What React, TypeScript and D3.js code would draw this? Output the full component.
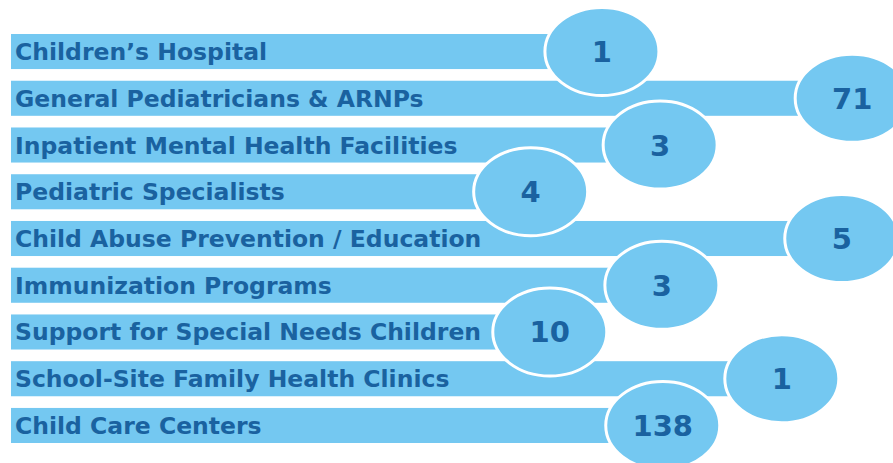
import { useEffect, useRef } from 'react';
import * as d3 from 'd3';

// service categories, top to bottom
const categories = [
  'Children\u2019s Hospital',
  'General Pediatricians & ARNPs',
  'Inpatient Mental Health Facilities',
  'Pediatric Specialists',
  'Child Abuse Prevention / Education',
  'Immunization Programs',
  'Support for Special Needs Children',
  'School-Site Family Health Clinics',
  'Child Care Centers',
];

// count shown in each bubble
const counts = [1, 71, 3, 4, 5, 3, 10, 1, 138];

// how far each bar reaches (percent of the track)
const barReach = [68, 96.8, 74.7, 59.8, 95.6, 74.9, 62, 88.7, 75];

const W = 893;
const H = 463;

export default function App() {
  const ref = useRef<SVGSVGElement>(null);

  useEffect(() => {
    document.body.style.margin = '0';
    const svg = d3.select(ref.current);
    svg.selectAll('*').remove();

    const x = d3.scaleLinear().domain([0, 100]).range([11, 880]);
    const y = d3
      .scaleBand<string>()
      .domain(categories)
      .range([34, 443])
      .paddingInner(0.25)
      .paddingOuter(0);

    const rows = categories.map((c, i) => ({ c, n: counts[i], r: barReach[i] }));

    const fill = '#74c8f1';
    const ink = '#1a62a0';

    // bars
    svg
      .append('g')
      .selectAll('rect')
      .data(rows)
      .join('rect')
      .attr('x', x(0))
      .attr('y', (d) => y(d.c)!)
      .attr('width', (d) => x(d.r) - x(0))
      .attr('height', y.bandwidth())
      .attr('fill', fill);

    // labels inside bars
    svg
      .append('g')
      .selectAll('text')
      .data(rows)
      .join('text')
      .attr('x', x(0) + 4)
      .attr('y', (d) => y(d.c)! + y.bandwidth() / 2 + 8.5)
      .attr('fill', ink)
      .style('font-family', '"DejaVu Sans", sans-serif')
      .style('font-weight', 700)
      .style('font-size', '23.5px')
      .text((d) => d.c);

    // bubbles at bar ends
    const bub = svg
      .append('g')
      .selectAll('g')
      .data(rows)
      .join('g')
      .attr('transform', (d) => `translate(${x(d.r)},${y(d.c)! + y.bandwidth() / 2})`);

    bub
      .append('ellipse')
      .attr('rx', 57)
      .attr('ry', 44)
      .attr('fill', fill)
      .attr('stroke', '#fff')
      .attr('stroke-width', 3);

    bub
      .append('text')
      .attr('text-anchor', 'middle')
      .attr('y', 10.5)
      .attr('fill', ink)
      .style('font-family', '"DejaVu Sans", sans-serif')
      .style('font-weight', 700)
      .style('font-size', '29px')
      .text((d) => d.n);
  }, []);

  return <svg ref={ref} width={W} height={H} style={{ display: 'block', background: '#fff' }} />;
}
